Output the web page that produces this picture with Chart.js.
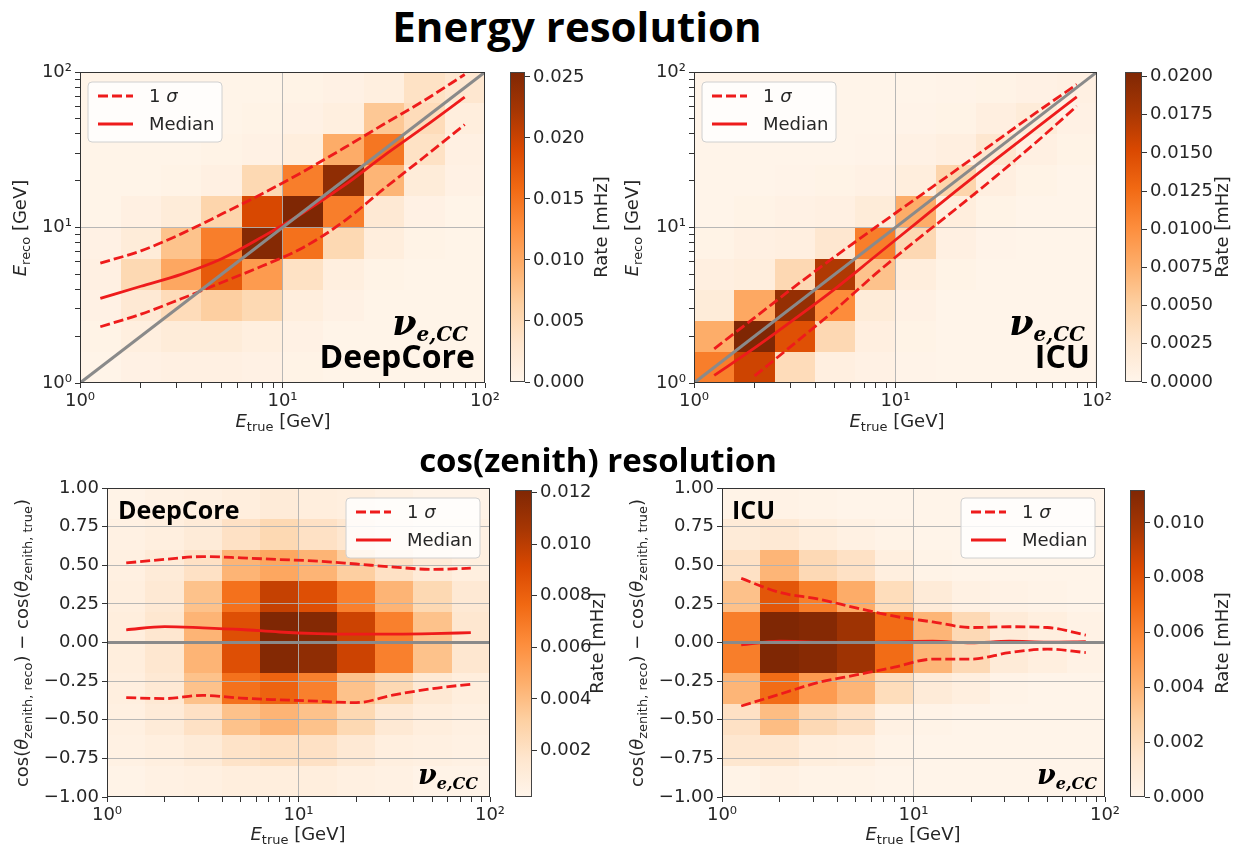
<!DOCTYPE html>
<html>
<head>
<meta charset="utf-8">
<script src="https://cdn.jsdelivr.net/npm/chart.js@4.4.1/dist/chart.umd.min.js"></script>
<style>
  body { margin: 0; background: #fff; width: 1237px; height: 851px; position: relative; overflow: hidden;
         font-family: 'DejaVu Sans', sans-serif; color: #262626; }
  canvas { position: absolute; }
  .t { position: absolute; white-space: nowrap; line-height: 1; }
  .title { font-family: 'Open Sans', sans-serif; font-weight: 700; color: #000; transform: translateX(-50%); }
  .ax { font-size: 18px; transform: translate(-50%, -50%); }
  .axv { font-size: 18px; transform: translate(-50%, -50%) rotate(-90deg); }
  .ax sub, .axv sub { font-size: 72%; vertical-align: -0.3em; line-height: 0; }
  .lab { font-family: 'Open Sans', sans-serif; font-weight: 700; color: #000; }
  .nu { font-family: 'DejaVu Serif', serif; font-weight: 700; font-style: italic; color: #000; }
  .nu span { vertical-align: -0.3em; }
</style>
</head>
<body>

<canvas id="tl" width="505" height="360" style="left:0px;top:55px"></canvas>
<canvas id="tl-cb" width="100" height="345" style="left:505px;top:55px"></canvas>
<canvas id="tr" width="505" height="360" style="left:610px;top:55px"></canvas>
<canvas id="tr-cb" width="117" height="345" style="left:1120px;top:55px"></canvas>
<canvas id="bl" width="510" height="360" style="left:0px;top:470px"></canvas>
<canvas id="bl-cb" width="90" height="345" style="left:510px;top:470px"></canvas>
<canvas id="br" width="510" height="360" style="left:615px;top:470px"></canvas>
<canvas id="br-cb" width="112" height="345" style="left:1125px;top:470px"></canvas>

<div class="t title" style="left:577px;top:5px;font-size:42px">Energy resolution</div>
<div class="t title" style="left:598px;top:443px;font-size:33px">cos(zenith) resolution</div>

<div class="t ax" style="left:283px;top:421px"><i>E</i><sub>true</sub> [GeV]</div>
<div class="t axv" style="left:20px;top:228px"><i>E</i><sub>reco</sub> [GeV]</div>
<div class="t axv" style="left:601px;top:227px">Rate [mHz]</div>
<div class="t ax" style="left:897px;top:421px"><i>E</i><sub>true</sub> [GeV]</div>
<div class="t axv" style="left:632px;top:228px"><i>E</i><sub>reco</sub> [GeV]</div>
<div class="t axv" style="left:1222px;top:227px">Rate [mHz]</div>

<div class="t ax" style="left:298px;top:834px"><i>E</i><sub>true</sub> [GeV]</div>
<div class="t axv" style="left:22px;top:643px">cos(<i>θ</i><sub>zenith, reco</sub>) − cos(<i>θ</i><sub>zenith, true</sub>)</div>
<div class="t axv" style="left:597px;top:643px">Rate [mHz]</div>
<div class="t ax" style="left:913px;top:834px"><i>E</i><sub>true</sub> [GeV]</div>
<div class="t axv" style="left:637px;top:643px">cos(<i>θ</i><sub>zenith, reco</sub>) − cos(<i>θ</i><sub>zenith, true</sub>)</div>
<div class="t axv" style="left:1222px;top:643px">Rate [mHz]</div>

<div class="t nu" style="right:769px;top:305px;font-size:35px">ν<span style="font-size:20px">e,CC</span></div>
<div class="t lab" style="right:762px;top:340px;font-size:32px">DeepCore</div>
<div class="t nu" style="right:152px;top:305px;font-size:35px">ν<span style="font-size:20px">e,CC</span></div>
<div class="t lab" style="right:147px;top:340px;font-size:32px">ICU</div>

<div class="t lab" style="left:118px;top:497px;font-size:25px">DeepCore</div>
<div class="t nu" style="right:759px;top:761px;font-size:27px">ν<span style="font-size:16px">e,CC</span></div>
<div class="t lab" style="left:732px;top:497px;font-size:25px">ICU</div>
<div class="t nu" style="right:140px;top:761px;font-size:27px">ν<span style="font-size:16px">e,CC</span></div>

<script>
// bin edges, line sample points and ticks
const E_EDGES = [1, 1.585, 2.512, 3.981, 6.31, 10, 15.85, 25.12, 39.81, 63.1, 100];
const CZ_EDGES = [-1, -0.8, -0.6, -0.4, -0.2, 0, 0.2, 0.4, 0.6, 0.8, 1];
const E_CENTERS = [1.26, 2.0, 3.16, 5.01, 7.94, 12.6, 20.0, 31.6, 50.1, 79.4];
const REF_X = [1, 100];

const E_TICKS = [1, 2, 3, 4, 5, 6, 7, 8, 9, 10, 20, 30, 40, 50, 60, 70, 80, 90, 100];
const E_MAJOR = [1, 10, 100];
const E_MAJOR_LABELS = ['10⁰', '10¹', '10²'];
const CZ_TICKS = [-1, -0.75, -0.5, -0.25, 0, 0.25, 0.5, 0.75, 1];
const CZ_TICK_LABELS = ['−1.00', '−0.75', '−0.50', '−0.25', '0.00', '0.25', '0.50', '0.75', '1.00'];

// rate [mHz] per bin; rows go from the lowest y bin upwards, columns along E_true
const dcEnergyRate = [
  [0.0003, 0.0008, 0.0010, 0.0010, 0.0008, 0.0005, 0.0003, 0.0003, 0.0003, 0.0003],
  [0.0005, 0.0013, 0.0020, 0.0020, 0.0013, 0.0008, 0.0003, 0.0003, 0.0003, 0.0003],
  [0.0008, 0.0025, 0.0046, 0.0064, 0.0051, 0.0015, 0.0008, 0.0003, 0.0003, 0.0003],
  [0.0010, 0.0051, 0.0102, 0.0173, 0.0114, 0.0038, 0.0013, 0.0005, 0.0003, 0.0003],
  [0.0008, 0.0020, 0.0076, 0.0140, 0.0249, 0.0152, 0.0051, 0.0015, 0.0005, 0.0003],
  [0.0003, 0.0010, 0.0020, 0.0056, 0.0191, 0.0254, 0.0140, 0.0025, 0.0008, 0.0003],
  [0.0003, 0.0003, 0.0005, 0.0010, 0.0051, 0.0140, 0.0241, 0.0089, 0.0020, 0.0008],
  [0.0003, 0.0003, 0.0003, 0.0005, 0.0008, 0.0015, 0.0097, 0.0147, 0.0038, 0.0010],
  [0.0003, 0.0003, 0.0003, 0.0003, 0.0005, 0.0008, 0.0013, 0.0071, 0.0046, 0.0015],
  [0.0003, 0.0003, 0.0003, 0.0003, 0.0003, 0.0005, 0.0008, 0.0013, 0.0038, 0.0030]
];
const icuEnergyRate = [
  [0.0112, 0.0158, 0.0037, 0.0010, 0.0006, 0.0003, 0.0002, 0.0002, 0.0002, 0.0002],
  [0.0077, 0.0203, 0.0146, 0.0041, 0.0010, 0.0004, 0.0002, 0.0002, 0.0002, 0.0002],
  [0.0016, 0.0081, 0.0189, 0.0102, 0.0016, 0.0006, 0.0002, 0.0002, 0.0002, 0.0002],
  [0.0010, 0.0012, 0.0041, 0.0173, 0.0061, 0.0012, 0.0004, 0.0002, 0.0002, 0.0002],
  [0.0004, 0.0008, 0.0010, 0.0024, 0.0112, 0.0041, 0.0008, 0.0003, 0.0002, 0.0002],
  [0.0002, 0.0004, 0.0006, 0.0008, 0.0016, 0.0077, 0.0012, 0.0004, 0.0002, 0.0002],
  [0.0002, 0.0002, 0.0003, 0.0004, 0.0006, 0.0012, 0.0045, 0.0010, 0.0004, 0.0002],
  [0.0002, 0.0002, 0.0002, 0.0002, 0.0003, 0.0006, 0.0010, 0.0024, 0.0008, 0.0004],
  [0.0002, 0.0002, 0.0002, 0.0002, 0.0002, 0.0003, 0.0004, 0.0010, 0.0016, 0.0006],
  [0.0002, 0.0002, 0.0002, 0.0002, 0.0002, 0.0002, 0.0003, 0.0004, 0.0006, 0.0008]
];
const dcZenithRate = [
  [0.0004, 0.0006, 0.0007, 0.0009, 0.0009, 0.0009, 0.0007, 0.0006, 0.0004, 0.0004],
  [0.0006, 0.0008, 0.0012, 0.0019, 0.0021, 0.0020, 0.0014, 0.0008, 0.0007, 0.0006],
  [0.0007, 0.0012, 0.0020, 0.0038, 0.0044, 0.0038, 0.0026, 0.0014, 0.0009, 0.0007],
  [0.0008, 0.0014, 0.0038, 0.0073, 0.0079, 0.0067, 0.0038, 0.0026, 0.0014, 0.0009],
  [0.0009, 0.0016, 0.0044, 0.0088, 0.0119, 0.0115, 0.0095, 0.0067, 0.0038, 0.0016],
  [0.0009, 0.0016, 0.0044, 0.0088, 0.0121, 0.0119, 0.0095, 0.0067, 0.0038, 0.0016],
  [0.0008, 0.0014, 0.0038, 0.0073, 0.0097, 0.0088, 0.0067, 0.0044, 0.0026, 0.0014],
  [0.0007, 0.0012, 0.0020, 0.0044, 0.0050, 0.0044, 0.0032, 0.0020, 0.0012, 0.0008],
  [0.0006, 0.0008, 0.0012, 0.0020, 0.0026, 0.0020, 0.0016, 0.0009, 0.0007, 0.0006],
  [0.0004, 0.0006, 0.0007, 0.0009, 0.0012, 0.0009, 0.0008, 0.0006, 0.0004, 0.0004]
];
const icuZenithRate = [
  [0.0002, 0.0004, 0.0002, 0.0002, 0.0001, 0.0001, 0.0001, 0.0001, 0.0001, 0.0001],
  [0.0013, 0.0013, 0.0007, 0.0006, 0.0002, 0.0001, 0.0001, 0.0001, 0.0001, 0.0001],
  [0.0017, 0.0036, 0.0022, 0.0017, 0.0004, 0.0002, 0.0001, 0.0001, 0.0001, 0.0001],
  [0.0039, 0.0069, 0.0050, 0.0039, 0.0020, 0.0009, 0.0006, 0.0002, 0.0001, 0.0001],
  [0.0062, 0.0112, 0.0109, 0.0101, 0.0069, 0.0039, 0.0022, 0.0009, 0.0006, 0.0003],
  [0.0062, 0.0112, 0.0110, 0.0101, 0.0069, 0.0039, 0.0022, 0.0009, 0.0006, 0.0003],
  [0.0034, 0.0078, 0.0062, 0.0043, 0.0020, 0.0009, 0.0004, 0.0003, 0.0002, 0.0001],
  [0.0017, 0.0039, 0.0022, 0.0017, 0.0006, 0.0002, 0.0001, 0.0001, 0.0001, 0.0001],
  [0.0009, 0.0011, 0.0007, 0.0004, 0.0002, 0.0001, 0.0001, 0.0001, 0.0001, 0.0001],
  [0.0002, 0.0003, 0.0002, 0.0001, 0.0001, 0.0001, 0.0001, 0.0001, 0.0001, 0.0001]
];

// median and 1 sigma bands at E_CENTERS
const dcEnergyMedian = [3.5, 4.19, 5.0, 6.3, 8.7, 12.4, 18.5, 28.9, 44.3, 68.9];
const dcEnergyUpper  = [5.9, 7.08, 9.1, 12.2, 16.5, 22.8, 32.3, 46.1, 65.6, 96.4];
const dcEnergyLower  = [2.3, 2.77, 3.48, 4.43, 5.65, 7.41, 10.9, 17.7, 28.4, 45.9];
const icuEnergyMedian = [1.12, 1.68, 2.58, 4.03, 6.53, 10.6, 17.2, 27.5, 43.7, 69.2];
const icuEnergyUpper  = [1.66, 2.63, 4.17, 6.5, 10.0, 15.3, 23.4, 35.9, 55.0, 83.2];
const icuEnergyLower  = [null, 1.11, 1.8, 2.95, 5.01, 8.22, 13.2, 21.4, 35.5, 60.3];
const dcZenithMedian = [0.082, 0.103, 0.095, 0.084, 0.068, 0.058, 0.054, 0.054, 0.057, 0.064];
const dcZenithUpper  = [0.515, 0.538, 0.556, 0.548, 0.537, 0.527, 0.508, 0.488, 0.473, 0.481];
const dcZenithLower  = [-0.357, -0.363, -0.342, -0.36, -0.371, -0.38, -0.389, -0.339, -0.298, -0.27];
const icuZenithMedian = [-0.015, 0.008, 0.002, 0, 0.004, 0.008, -0.002, 0.008, 0.002, 0.005];
const icuZenithUpper  = [0.415, 0.324, 0.282, 0.224, 0.17, 0.133, 0.097, 0.102, 0.097, 0.048];
const icuZenithLower  = [-0.411, -0.335, -0.26, -0.21, -0.16, -0.108, -0.108, -0.066, -0.043, -0.065];

// colour bar ranges and ticks
const dcEnergyRange = [0, 0.0254];
const icuEnergyRange = [0, 0.0203];
const dcZenithRange = [0.0002, 0.0121];
const icuZenithRange = [0, 0.0112];
const dcEnergyCbTicks = [0, 0.005, 0.010, 0.015, 0.020, 0.025];
const icuEnergyCbTicks = [0, 0.0025, 0.005, 0.0075, 0.010, 0.0125, 0.015, 0.0175, 0.020];
const dcZenithCbTicks = [0.002, 0.004, 0.006, 0.008, 0.010, 0.012];
const icuZenithCbTicks = [0, 0.002, 0.004, 0.006, 0.008, 0.010];

const ORANGES = ['#fff5eb', '#fee6ce', '#fdd0a2', '#fdae6b', '#fd8d3c', '#f16913', '#d94801', '#a63603', '#7f2704'];
const RED = '#ee1b1b';
const GREY = '#8a8a8a';
const GRID = 'rgba(176,176,176,0.9)';
const TICK_FONT = { family: 'DejaVu Sans', size: 18 };

function hexRgb(h) {
  return [1, 3, 5].map(i => parseInt(h.slice(i, i + 2), 16));
}

function cmap(t) {
  t = Math.max(0, Math.min(1, t));
  const p = t * (ORANGES.length - 1);
  const i = Math.min(ORANGES.length - 2, Math.floor(p));
  const f = p - i;
  const a = hexRgb(ORANGES[i]), b = hexRgb(ORANGES[i + 1]);
  const c = a.map((v, k) => Math.round(v + (b[k] - v) * f));
  return `rgb(${c[0]},${c[1]},${c[2]})`;
}

function heatmapPlugin(rates, xEdges, yEdges, range) {
  return {
    id: 'heatmap',
    beforeDraw(chart) {
      const { ctx, chartArea: a, scales: { x, y } } = chart;
      ctx.save();
      ctx.beginPath();
      ctx.rect(a.left, a.top, a.right - a.left, a.bottom - a.top);
      ctx.clip();
      rates.forEach((row, j) => {
        const y0 = Math.round(y.getPixelForValue(yEdges[j]));
        const y1 = Math.round(y.getPixelForValue(yEdges[j + 1]));
        row.forEach((v, i) => {
          const x0 = Math.round(x.getPixelForValue(xEdges[i]));
          const x1 = Math.round(x.getPixelForValue(xEdges[i + 1]));
          ctx.fillStyle = cmap((v - range[0]) / (range[1] - range[0]));
          ctx.fillRect(x0, y1, x1 - x0, y0 - y1);
        });
      });
      ctx.restore();
    }
  };
}

const framePlugin = {
  id: 'frame',
  afterDraw(chart) {
    const { ctx, chartArea: a } = chart;
    ctx.save();
    ctx.strokeStyle = '#333';
    ctx.lineWidth = 1;
    ctx.strokeRect(a.left + 0.5, a.top + 0.5, a.right - a.left - 1, a.bottom - a.top - 1);
    ctx.restore();
  }
};

function legendPlugin(side) {
  return {
    id: 'lineLegend',
    afterDraw(chart) {
      const { ctx, chartArea: a } = chart;
      const w = 134, h = 60;
      const bx = side === 'left' ? a.left + 8 : a.right - 10 - w;
      const by = a.top + 10;
      ctx.save();
      ctx.beginPath();
      ctx.roundRect(bx, by, w, h, 4);
      ctx.fillStyle = 'rgba(255,255,255,0.82)';
      ctx.fill();
      ctx.strokeStyle = '#d0d0d0';
      ctx.lineWidth = 1;
      ctx.stroke();
      chart.data.datasets.filter(d => d.legendText).forEach((d, k) => {
        const cy = by + 14 + k * 28;
        ctx.beginPath();
        ctx.setLineDash(d.borderDash || []);
        ctx.strokeStyle = d.borderColor;
        ctx.lineWidth = d.borderWidth;
        ctx.moveTo(bx + 10, cy);
        ctx.lineTo(bx + 45, cy);
        ctx.stroke();
        ctx.setLineDash([]);
        ctx.fillStyle = '#262626';
        ctx.textBaseline = 'middle';
        let tx = bx + 61;
        d.legendText.forEach(part => {
          ctx.font = (part.italic ? 'italic ' : '') + '18px "DejaVu Sans"';
          ctx.fillText(part.t, tx, cy + 1);
          tx += ctx.measureText(part.t).width;
        });
      });
      ctx.restore();
    }
  };
}

function gradientPlugin(range) {
  return {
    id: 'cbar',
    beforeDraw(chart) {
      const { ctx, chartArea: a, scales: { y } } = chart;
      const g = ctx.createLinearGradient(0, y.getPixelForValue(range[0]), 0, y.getPixelForValue(range[1]));
      ORANGES.forEach((c, i) => g.addColorStop(i / (ORANGES.length - 1), c));
      ctx.save();
      ctx.fillStyle = g;
      ctx.fillRect(a.left, a.top, a.right - a.left, a.bottom - a.top);
      ctx.strokeStyle = '#444';
      ctx.lineWidth = 1;
      ctx.strokeRect(a.left + 0.5, a.top + 0.5, a.right - a.left - 1, a.bottom - a.top - 1);
      ctx.restore();
    }
  };
}

function points(xs, ys) {
  return xs.map((x, i) => ({ x, y: ys[i] }));
}

function logAxis(axisSize, gridAt) {
  return {
    type: 'logarithmic', min: 1, max: 100,
    afterBuildTicks: s => { s.ticks = E_TICKS.map(v => ({ value: v })); },
    afterFit: axisSize,
    ticks: {
      autoSkip: false, maxRotation: 0, padding: 3, color: '#262626', font: TICK_FONT,
      callback: v => { const k = E_MAJOR.indexOf(v); return k >= 0 ? E_MAJOR_LABELS[k] : ''; }
    },
    grid: {
      color: c => (c.tick && gridAt.includes(c.tick.value)) ? GRID : 'rgba(0,0,0,0)',
      tickColor: '#333', tickLength: 5, lineWidth: 1
    },
    border: { display: false }
  };
}

function czAxis(axisSize) {
  return {
    type: 'linear', min: -1, max: 1,
    afterBuildTicks: s => { s.ticks = CZ_TICKS.map(v => ({ value: v })); },
    afterFit: axisSize,
    ticks: {
      autoSkip: false, padding: 3, color: '#262626', font: TICK_FONT,
      callback: v => CZ_TICK_LABELS[CZ_TICKS.indexOf(v)]
    },
    grid: {
      color: c => (c.tick && Math.abs(c.tick.value) < 1) ? GRID : 'rgba(0,0,0,0)',
      tickColor: '#333', tickLength: 5, lineWidth: 1
    },
    border: { display: false }
  };
}

function bandSets(median, upper, lower, refY, refWidth) {
  const line = { pointRadius: 0, fill: false, cubicInterpolationMode: 'monotone', spanGaps: false };
  return [
    { ...line, data: points(REF_X, refY), borderColor: GREY, borderWidth: refWidth },
    { ...line, data: points(E_CENTERS, lower), borderColor: RED, borderWidth: 2.8, borderDash: [10, 4] },
    { ...line, data: points(E_CENTERS, upper), borderColor: RED, borderWidth: 2.8, borderDash: [10, 4],
      legendText: [{ t: '1 ' }, { t: 'σ', italic: true }] },
    { ...line, data: points(E_CENTERS, median), borderColor: RED, borderWidth: 2.8,
      legendText: [{ t: 'Median' }] }
  ];
}

function panel(id, o) {
  return new Chart(document.getElementById(id), {
    type: 'line',
    data: { datasets: o.datasets },
    options: {
      responsive: false,
      animation: false,
      events: [],
      layout: { padding: { top: o.padTop, right: o.padRight, left: 0, bottom: 0 } },
      plugins: { legend: { display: false }, tooltip: { enabled: false } },
      scales: {
        x: logAxis(s => { s.height = o.xAxisH; }, [10]),
        y: o.energy ? logAxis(s => { s.width = o.yAxisW; }, [10]) : czAxis(s => { s.width = o.yAxisW; })
      }
    },
    plugins: [heatmapPlugin(o.rates, E_EDGES, o.energy ? E_EDGES : CZ_EDGES, o.range), framePlugin, legendPlugin(o.legendSide)]
  });
}

function colorbar(id, range, ticks, digits, o) {
  return new Chart(document.getElementById(id), {
    type: 'scatter',
    data: { datasets: [] },
    options: {
      responsive: false,
      animation: false,
      events: [],
      layout: { padding: { left: 5, top: o.padTop, bottom: o.padBottom, right: 0 } },
      plugins: { legend: { display: false }, tooltip: { enabled: false } },
      scales: {
        x: { display: false, min: 0, max: 1 },
        y: {
          position: 'right', min: range[0], max: range[1],
          afterBuildTicks: s => { s.ticks = ticks.map(v => ({ value: v })); },
          afterFit: s => { s.width = o.axisW; },
          ticks: { autoSkip: false, padding: 3, color: '#262626', font: TICK_FONT, callback: v => v.toFixed(digits) },
          grid: { drawOnChartArea: false, tickColor: '#333', tickLength: 5 },
          border: { display: false }
        }
      }
    },
    plugins: [gradientPlugin(range)]
  });
}

panel('tl', {
  energy: true, rates: dcEnergyRate, range: dcEnergyRange, legendSide: 'left',
  yAxisW: 80, xAxisH: 32, padTop: 17, padRight: 20,
  datasets: bandSets(dcEnergyMedian, dcEnergyUpper, dcEnergyLower, [1, 100], 3)
});
panel('tr', {
  energy: true, rates: icuEnergyRate, range: icuEnergyRange, legendSide: 'left',
  yAxisW: 84, xAxisH: 32, padTop: 17, padRight: 17,
  datasets: bandSets(icuEnergyMedian, icuEnergyUpper, icuEnergyLower, [1, 100], 3)
});
panel('bl', {
  energy: false, rates: dcZenithRate, range: dcZenithRange, legendSide: 'right',
  yAxisW: 107, xAxisH: 33, padTop: 18, padRight: 20,
  datasets: bandSets(dcZenithMedian, dcZenithUpper, dcZenithLower, [0, 0], 3)
});
panel('br', {
  energy: false, rates: icuZenithRate, range: icuZenithRange, legendSide: 'right',
  yAxisW: 107, xAxisH: 33, padTop: 18, padRight: 20,
  datasets: bandSets(icuZenithMedian, icuZenithUpper, icuZenithLower, [0, 0], 3)
});

colorbar('tl-cb', dcEnergyRange, dcEnergyCbTicks, 3, { padTop: 17, padBottom: 18, axisW: 80 });
colorbar('tr-cb', icuEnergyRange, icuEnergyCbTicks, 4, { padTop: 17, padBottom: 18, axisW: 95 });
colorbar('bl-cb', dcZenithRange, dcZenithCbTicks, 3, { padTop: 20, padBottom: 18, axisW: 68 });
colorbar('br-cb', icuZenithRange, icuZenithCbTicks, 3, { padTop: 20, padBottom: 18, axisW: 92 });
</script>
</body>
</html>
